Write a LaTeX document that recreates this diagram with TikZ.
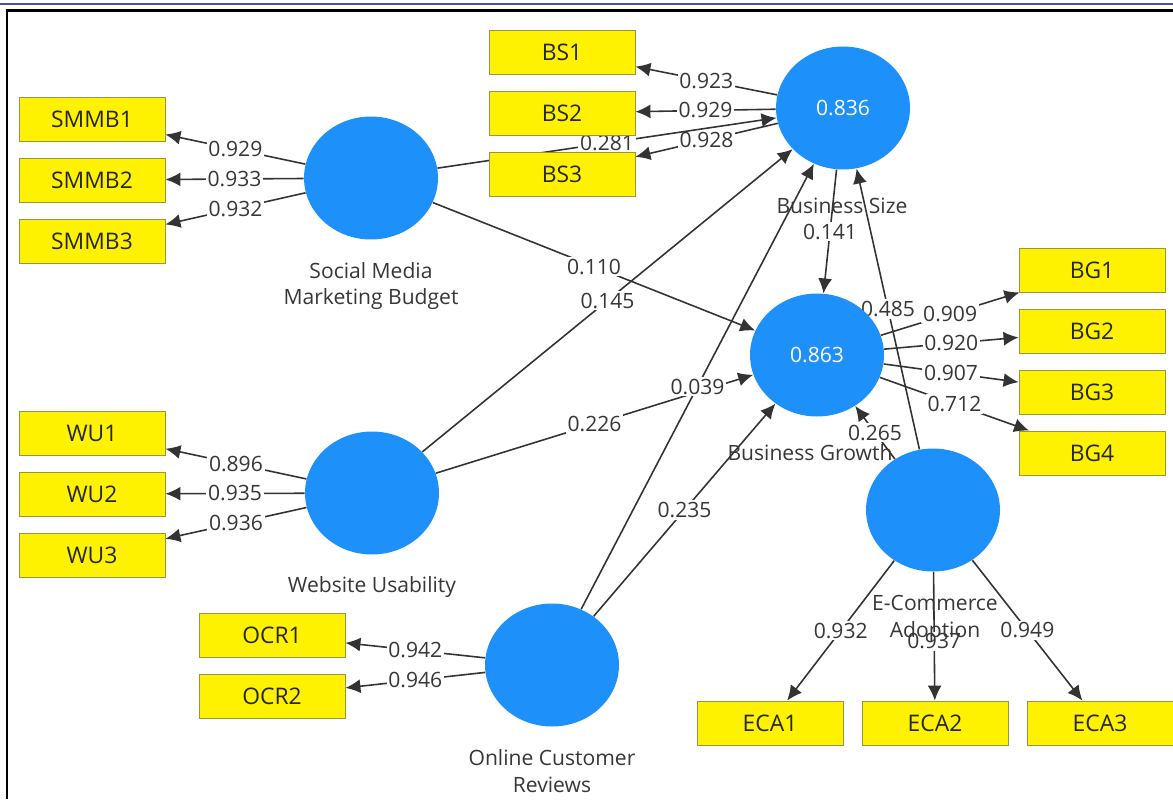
\documentclass[tikz,border=0pt]{standalone}
\usepackage{fontspec}
\setmainfont{Open Sans}
\usetikzlibrary{shapes.geometric,arrows.meta,backgrounds}
\definecolor{lvblue}{RGB}{30,144,250}
\definecolor{txtgray}{RGB}{55,55,55}
\definecolor{frameblue}{RGB}{80,80,160}
\begin{document}
\begin{tikzpicture}[x=0.02cm,y=-0.02cm,
  every node/.style={font=\fontsize{12}{15.3}\selectfont,text=txtgray},
  ind/.style={draw=yellow!55!black,fill=yellow,line width=0.5pt,
    minimum width=2.92cm,minimum height=0.88cm,text=black!85,
    font=\fontsize{13}{15}\selectfont},
  lv/.style={ellipse,fill=lvblue,inner sep=0pt,
    minimum width=2.68cm,minimum height=2.46cm,text=white},
  lvname/.style={align=center},
  val/.style={fill=white,inner sep=1pt},
  pth/.style={->,draw=black!80,line width=0.9pt},
  >={Latex[length=3mm,width=2.8mm]}]
  \useasboundingbox (0,0) rectangle (1173,799);
  \draw [frameblue,line width=1pt] (0,4) -- (1173,4);
  \draw [black,line width=1.2pt] (7,799) -- (7,10.5) -- (1173,10.5);

  % latent variables
  \node [lv] (smmb) at (371,178) {};
  \node [lv] (bs)   at (843,108) {0.836};
  \node [lv] (bg)   at (817,355) {0.863};
  \node [lv] (wu)   at (372,493) {};
  \node [lv] (ocr)  at (552,665) {};
  \node [lv] (eca)  at (933,510) {};
  \node [lvname] (smmbname) at (371,286) {Social Media\\Marketing Budget};
  \node [lvname] (bsname)   at (842,206) {Business Size};
  \node [lvname] (bgname)   at (810,453) {Business Growth};
  \node [lvname] (wuname)   at (372,587) {Website Usability};
  \node [lvname] (ocrname)  at (552,771) {Online Customer\\Reviews};
  \node [lvname] (ecaname)  at (935,619) {E-Commerce\\Adoption};

  % indicators
  \foreach \i/\y in {1/119,2/180,3/241} \node [ind] (smmb\i) at (92,\y) {SMMB\i};
  \foreach \i/\y in {1/52,2/113,3/174} \node [ind] (bs\i) at (562,\y) {BS\i};
  \foreach \i/\y in {1/270,2/331,3/392,4/453} \node [ind] (bg\i) at (1092,\y) {BG\i};
  \foreach \i/\y in {1/433,2/494,3/555} \node [ind] (wu\i) at (92,\y) {WU\i};
  \foreach \i/\y in {1/635,2/696} \node [ind] (ocr\i) at (272,\y) {OCR\i};
  \foreach \i/\x in {1/770,2/935,3/1100} \node [ind] (eca\i) at (\x,723) {ECA\i};

  \begin{scope}[on background layer]
    % outer loadings
    \foreach \i/\v in {1/0.929,2/0.933,3/0.932} \draw [pth] (smmb) -- node [val] {\v} (smmb\i);
    \foreach \i/\v in {1/0.923,2/0.929,3/0.928} \draw [pth] (bs) -- node [val] {\v} (bs\i);
    \foreach \i/\v in {1/0.909,2/0.920,3/0.907,4/0.712} \draw [pth] (bg) -- node [val] {\v} (bg\i);
    \foreach \i/\v in {1/0.896,2/0.935,3/0.936} \draw [pth] (wu) -- node [val] {\v} (wu\i);
    \foreach \i/\v in {1/0.942,2/0.946} \draw [pth] (ocr) -- node [val] {\v} (ocr\i);
    \foreach \i/\v in {1/0.932,3/0.949} \draw [pth] (eca) -- node [val] {\v} (eca\i);
    \draw [pth] (eca) -- node [val,pos=0.54] {0.937} (eca2);
    % path coefficients
    \draw [pth] (smmb) -- node [val] {0.281} (bs);
    \draw [pth] (smmb) -- node [val] {0.110} (bg);
    \draw [pth] (wu)   -- node [val] {0.145} (bs);
    \draw [pth] (wu)   -- node [val] {0.226} (bg);
    \draw [pth] (ocr)  -- node [val] {0.039} (bs);
    \draw [pth] (ocr)  -- node [val] {0.235} (bg);
    \draw [pth] (bs)   -- node [val] {0.141} (bg);
    \draw [pth] (eca)  -- node [val] {0.485} (bs);
    \draw [pth] (eca)  -- node [val] {0.265} (bg);
  \end{scope}
\end{tikzpicture}
\end{document}
